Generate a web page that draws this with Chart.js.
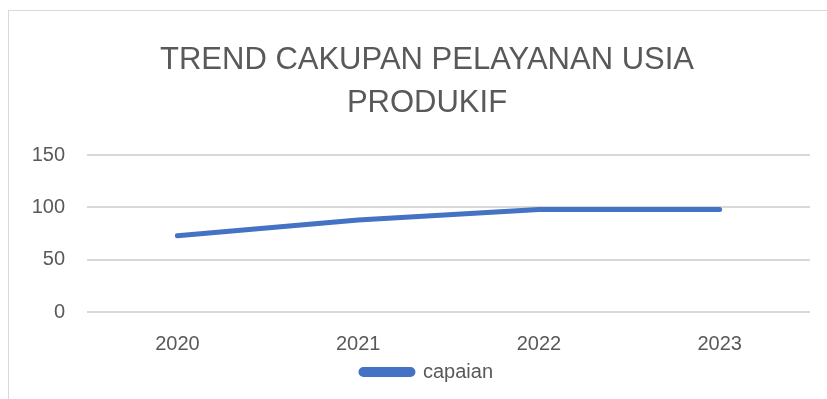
<!DOCTYPE html>
<html>
<head>
<meta charset="utf-8">
<script src="https://cdn.jsdelivr.net/npm/chart.js@4/dist/chart.umd.min.js"></script>
<style>
  html, body { margin: 0; padding: 0; background: #ffffff; }
  #wrap { position: relative; width: 827px; height: 399px; overflow: hidden; }
  #frame { position: absolute; left: 8px; top: 10px; width: 900px; height: 500px; border: 1px solid #d9d9d9; box-sizing: border-box; }
  canvas { position: absolute; left: 0; top: 0; }
</style>
</head>
<body>
<div id="wrap">
  <div id="frame"></div>
  <canvas id="c" width="827" height="399"></canvas>
</div>
<script>
const titleLines = ['TREND CAKUPAN PELAYANAN USIA', 'PRODUKIF'];
const years = ['2020', '2021', '2022', '2023'];
const seriesName = 'capaian';
const capaian = [73, 88, 98, 98];
const yTicks = [0, 50, 100, 150];

const FONT = "'Liberation Sans', Arial, sans-serif";
const GREY = '#595959';
const BLUE = '#4472C4';

// Title and legend are centred on the frame rather than on the whole canvas.
const centreOnFrame = {
  id: 'centreOnFrame',
  afterLayout(chart) {
    const shift = 44;
    if (chart.titleBlock) chart.titleBlock.left += shift;
    if (chart.legend) chart.legend.left += shift;
  }
};

new Chart(document.getElementById('c'), {
  type: 'line',
  data: {
    labels: years,
    datasets: [{
      label: seriesName,
      data: capaian,
      borderColor: BLUE,
      backgroundColor: BLUE,
      borderWidth: 5,
      borderCapStyle: 'round',
      borderJoinStyle: 'round',
      pointRadius: 0,
      tension: 0
    }]
  },
  plugins: [centreOnFrame],
  options: {
    responsive: false,
    animation: false,
    layout: { padding: { left: 0, right: 17, top: 39, bottom: 7 } },
    plugins: {
      title: {
        display: true,
        text: titleLines,
        color: GREY,
        font: { family: FONT, size: 31, weight: 'normal', lineHeight: 1.39 },
        padding: { top: 0, bottom: 30 }
      },
      legend: {
        position: 'bottom',
        labels: {
          color: GREY,
          font: { family: FONT, size: 20 },
          boxWidth: 52,
          boxHeight: 5,
          useBorderRadius: true,
          borderRadius: 2.5,
          padding: 6
        }
      },
      tooltip: { enabled: false }
    },
    scales: {
      x: {
        offset: true,
        grid: { display: false, drawTicks: false },
        border: { display: false },
        afterFit: s => { s.height -= 20; },
        ticks: { color: GREY, font: { family: FONT, size: 20 }, padding: 20 }
      },
      y: {
        min: 0,
        max: 150,
        afterBuildTicks: s => { s.ticks = yTicks.map(v => ({ value: v })); },
        afterFit: s => { s.width = 87; },
        grid: { color: '#d9d9d9', lineWidth: 2, drawTicks: false },
        border: { display: false },
        ticks: { color: GREY, font: { family: FONT, size: 20 }, padding: 22 }
      }
    }
  }
});
</script>
</body>
</html>
